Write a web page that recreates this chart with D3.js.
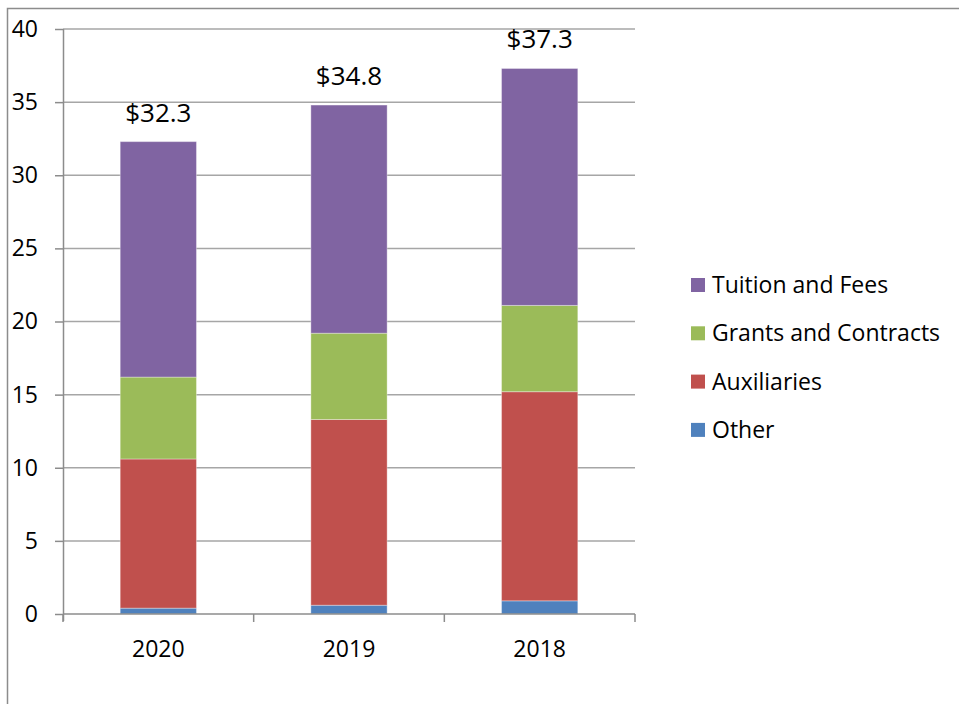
<!DOCTYPE html>
<html>
<head>
<meta charset="utf-8">
<script src="https://cdn.jsdelivr.net/npm/d3@7"></script>
<style>
  body { margin: 0; background: #fff; }
  svg { display: block; font-family: "Open Sans", sans-serif; }
</style>
</head>
<body>
<svg id="chart" width="959" height="704"></svg>
<script>
// data
const years = ['2020', '2019', '2018'];
const series = ['Other', 'Auxiliaries', 'Grants and Contracts', 'Tuition and Fees'];
const other = [0.4, 0.6, 0.9];
const auxiliaries = [10.2, 12.7, 14.3];
const grants = [5.6, 5.9, 5.9];
const tuition = [16.1, 15.6, 16.2];
const totalLabels = ['$32.3', '$34.8', '$37.3'];
const yTicks = [0, 5, 10, 15, 20, 25, 30, 35, 40];
const colors = ['#4F81BD', '#C0504D', '#9BBB59', '#8064A2'];

const rows = years.map((y, i) => ({
  year: y,
  'Other': other[i],
  'Auxiliaries': auxiliaries[i],
  'Grants and Contracts': grants[i],
  'Tuition and Fees': tuition[i]
}));

const svg = d3.select('#chart');
const margin = {left: 63, right: 324, top: 29, bottom: 90};
const W = 959, H = 704;

const x = d3.scaleBand().domain(years)
            .range([margin.left, W - margin.right])
            .paddingInner(0.6).paddingOuter(0.3);
const y = d3.scaleLinear().domain([0, 40]).range([H - margin.bottom, margin.top]);
const color = d3.scaleOrdinal().domain(series).range(colors);

// outer frame (left + top)
svg.append('path')
   .attr('d', `M7.5,${H} V8.5 H${W}`)
   .attr('fill', 'none').attr('stroke', '#8c8c8c').attr('stroke-width', 1.5);

// gridlines
svg.append('g').selectAll('line').data(yTicks.filter(d => d > 0)).enter()
   .append('line')
   .attr('x1', margin.left).attr('x2', W - margin.right)
   .attr('y1', d => y(d)).attr('y2', d => y(d))
   .attr('stroke', '#a6a6a6').attr('stroke-width', 1.5);

// bars
const stack = d3.stack().keys(series);
const layers = stack(rows);

svg.append('g').selectAll('g').data(layers).enter()
   .append('g').attr('fill', d => color(d.key))
   .selectAll('rect').data(d => d).enter()
   .append('rect')
   .attr('x', d => x(d.data.year))
   .attr('width', x.bandwidth())
   .attr('y', d => y(d[1]))
   .attr('height', d => y(d[0]) - y(d[1]))
   .attr('stroke', '#fff').attr('stroke-opacity', 0.35).attr('stroke-width', 1);

// y axis
const yAxis = svg.append('g')
   .attr('transform', `translate(${margin.left},0)`)
   .call(d3.axisLeft(y).tickValues(yTicks).tickSize(8).tickPadding(17).tickSizeOuter(0));
yAxis.select('.domain').attr('stroke', '#8c8c8c').attr('stroke-width', 1.5)
     .attr('d', `M0.5,${y(40)}V${y(0) + 7}`);
yAxis.selectAll('.tick line').attr('stroke', '#8c8c8c').attr('stroke-width', 1.5);
yAxis.selectAll('.tick text').attr('font-size', 23).attr('fill', '#000')
     .attr('font-family', '"Open Sans", sans-serif');

// x axis
svg.append('line')
   .attr('x1', margin.left).attr('x2', W - margin.right)
   .attr('y1', y(0)).attr('y2', y(0))
   .attr('stroke', '#8c8c8c').attr('stroke-width', 1.5);

const bounds = d3.range(years.length + 1).map(i => margin.left + i * x.step());
svg.append('g').selectAll('line').data(bounds).enter()
   .append('line')
   .attr('x1', d => d).attr('x2', d => d)
   .attr('y1', y(0)).attr('y2', y(0) + 8)
   .attr('stroke', '#8c8c8c').attr('stroke-width', 1.5);

svg.append('g').selectAll('text').data(years).enter()
   .append('text')
   .attr('x', d => x(d) + x.bandwidth() / 2)
   .attr('y', y(0) + 43)
   .attr('text-anchor', 'middle').attr('font-size', 23)
   .text(d => d);

// total labels
svg.append('g').selectAll('text').data(layers[layers.length - 1]).enter()
   .append('text')
   .attr('x', d => x(d.data.year) + x.bandwidth() / 2)
   .attr('y', d => y(d[1]) - 20)
   .attr('text-anchor', 'middle').attr('font-size', 26)
   .text((d, i) => totalLabels[i]);

// legend
const legendItems = series.slice().reverse();
const lg = svg.append('g').selectAll('g').data(legendItems).enter()
   .append('g')
   .attr('transform', (d, i) => `translate(691,${285 + i * 48.3})`);
lg.append('rect')
  .attr('x', 0).attr('y', -7).attr('width', 14).attr('height', 14)
  .attr('fill', d => color(d));
lg.append('text')
  .attr('x', 21).attr('y', 0).attr('dy', '0.35em')
  .attr('font-size', 23)
  .text(d => d);
</script>
</body>
</html>
